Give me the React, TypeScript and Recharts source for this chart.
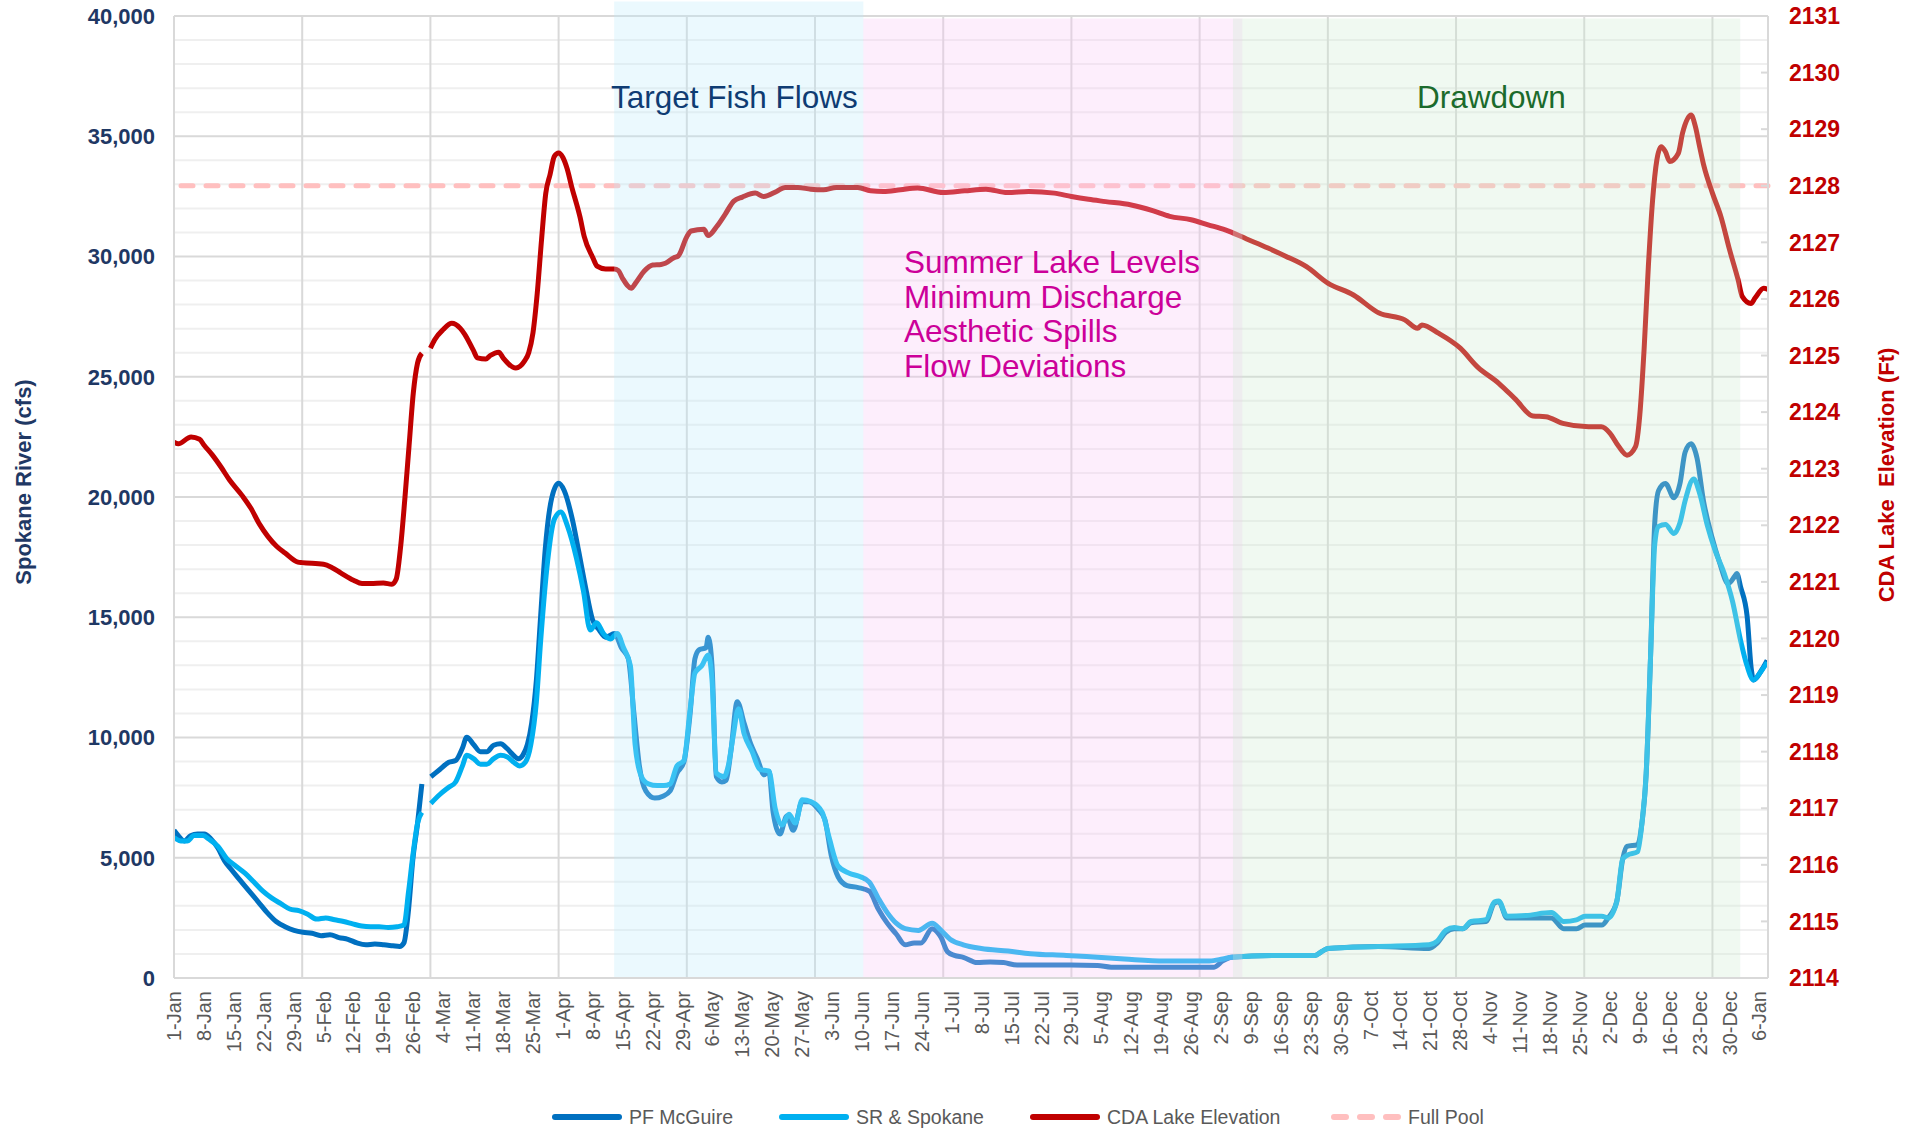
import React from "react"
import {
   LineChart,
   Line,
   XAxis,
   YAxis,
   CartesianGrid,
   ReferenceLine,
   ReferenceArea,
} from "recharts"

type Pt = [number, number | null]

// day 0 = 1-Jan, labels every 7 days
const xTickLabels = [
   "1-Jan", "8-Jan", "15-Jan", "22-Jan", "29-Jan",
   "5-Feb", "12-Feb", "19-Feb", "26-Feb",
   "4-Mar", "11-Mar", "18-Mar", "25-Mar",
   "1-Apr", "8-Apr", "15-Apr", "22-Apr", "29-Apr",
   "6-May", "13-May", "20-May", "27-May",
   "3-Jun", "10-Jun", "17-Jun", "24-Jun",
   "1-Jul", "8-Jul", "15-Jul", "22-Jul", "29-Jul",
   "5-Aug", "12-Aug", "19-Aug", "26-Aug",
   "2-Sep", "9-Sep", "16-Sep", "23-Sep", "30-Sep",
   "7-Oct", "14-Oct", "21-Oct", "28-Oct",
   "4-Nov", "11-Nov", "18-Nov", "25-Nov",
   "2-Dec", "9-Dec", "16-Dec", "23-Dec", "30-Dec",
   "6-Jan",
]
const xTickDays = xTickLabels.map((_, i) => i * 7)
const monthGridDays = [30, 60, 90, 120, 150, 180, 210, 240, 270, 300, 330, 360]

const flowTicks = [0, 5000, 10000, 15000, 20000, 25000, 30000, 35000, 40000]
const minorFlowLines = [
   1000, 2000, 3000, 4000, 6000, 7000, 8000, 9000, 11000, 12000, 13000, 14000,
   16000, 17000, 18000, 19000, 21000, 22000, 23000, 24000, 26000, 27000, 28000,
   29000, 31000, 32000, 33000, 34000, 36000, 37000, 38000, 39000,
]
const elevTicks = [
   2114, 2115, 2116, 2117, 2118, 2119, 2120, 2121, 2122, 2123, 2124, 2125, 2126,
   2127, 2128, 2129, 2130, 2131,
]
const FULL_POOL = 2128

const fishFlowDays = [103, 161.3]
const summerDays = [161.3, 250]
const drawdownDays = [247.8, 366.5]

const pfMcGuire: Pt[] = [
   [0, 6140], [1, 5920], [2.4, 5700], [3.9, 5920], [5.5, 5990], [7.1, 5990], [8.7, 5770],
   [10.3, 5400], [11.8, 4880], [13.4, 4510], [15.5, 4060], [17.6, 3610], [19.7, 3170],
   [21.8, 2720], [23.9, 2350], [26, 2130], [28.1, 1980], [30.2, 1900], [32.3, 1860],
   [34.4, 1760], [36.5, 1800], [38.6, 1680], [40.7, 1610], [42.8, 1460], [44.9, 1380],
   [47, 1410], [49.1, 1380], [51.2, 1340], [52.8, 1310], [53.8, 1460], [54.9, 2870],
   [55.9, 4950], [57, 6440], [58, 8070], [59, null], [60.1, 8370], [62.2, 8670],
   [64.3, 8970], [65.9, 9040], [67.5, 9560], [68.5, 10010], [70.1, 9710], [71.7, 9410],
   [73.2, 9410], [74.8, 9680], [76.4, 9740], [78, 9530], [79, 9340], [80.6, 9120],
   [81.6, 9260], [82.7, 9710], [83.7, 10600], [84.8, 12390], [85.8, 15060], [86.9, 17890],
   [88.4, 19970], [90, 20570], [91.3, 20270], [93.2, 19080], [94.7, 17740], [96.3, 16250],
   [97.9, 14920], [99.5, 14470], [101, 14170], [103.1, 14320], [104.7, 13730],
   [106.3, 13280], [107.6, 11050], [108.9, 8820], [110.4, 7780], [112.5, 7480],
   [114.4, 7560], [116.1, 7780], [117.7, 8520], [119.3, 8970], [120.8, 11050],
   [121.9, 13280], [122.9, 13650], [124.5, 13730], [125, 14170], [125.9, 12980],
   [126.9, 8370], [128.2, 8150], [129.2, 8220], [130.3, 9410], [131.8, 11490],
   [133.4, 10600], [135, 9710], [136.5, 9120], [138.1, 8450], [139.2, 8600], [140.2, 6890],
   [141.8, 5990], [143.4, 6740], [144.9, 6140], [147, 7330], [148.6, 7330], [150.7, 7030],
   [152.3, 6590], [153.8, 5100], [155.4, 4210], [157.5, 3840], [160.1, 3760], [162.7, 3610],
   [164.8, 2870], [166.9, 2280], [169, 1830], [171.1, 1380], [173.2, 1460], [174.8, 1460],
   [177.4, 2050], [179.5, 1680], [181, 1090], [182.6, 940], [184.7, 860], [187.9, 640],
   [191, 670], [194.1, 640], [197.3, 540], [209.8, 540], [216.1, 520], [219.3, 450],
   [243.4, 450], [245.4, 710], [247.5, 860], [258, 940], [267, 940], [268.5, 1090],
   [270, 1230], [281.8, 1310], [293.7, 1230], [295.6, 1450], [297.6, 1900], [299.6, 2050],
   [301.6, 2050], [303.5, 2300], [307, 2350], [309, 3120], [310, 3170], [311.9, 2500],
   [316.4, 2500], [322.3, 2500], [325.2, 2050], [328.2, 2050], [330.2, 2200], [334.1, 2200],
   [335.6, 2500], [337.6, 3170], [339, 4950], [340, 5470], [342.5, 5550], [343.5, 6440],
   [344.5, 8520], [345.5, 13280], [346.5, 18930], [347.4, 20270], [349, 20560],
   [351, 19970], [352.4, 20560], [353.6, 21860], [355, 22210], [356.4, 21610],
   [357.9, 19840], [359.9, 18320], [361.6, 17310], [363.7, 16400], [365.2, 16700],
   [365.7, 16820], [366.6, 16250], [368.1, 15060], [369.1, 12830], [369.6, 12390],
   [371.6, 12830], [372.8, 13210],
]

const srSpokane: Pt[] = [
   [0, 5840], [1.6, 5700], [3.1, 5700], [4.7, 5920], [6.8, 5920], [8.2, 5770], [10.3, 5470],
   [12.4, 4950], [14.5, 4650], [16.6, 4360], [18.7, 3990], [20.8, 3610], [22.9, 3320],
   [25, 3090], [27.1, 2870], [29.2, 2800], [31.3, 2650], [33.4, 2450], [35.5, 2500],
   [37.6, 2420], [39.7, 2350], [41.8, 2250], [43.9, 2160], [46, 2130], [48, 2130],
   [50.1, 2100], [52.2, 2130], [53.8, 2200], [54.9, 3610], [55.9, 5100], [57, 6440],
   [58, 6890], [59, null], [60.1, 7260], [62.2, 7630], [64.3, 7930], [65.9, 8150],
   [67.5, 8820], [68.5, 9260], [70.1, 9120], [71.7, 8890], [73.2, 8890], [74.8, 9120],
   [76.4, 9260], [78, 9190], [79.5, 8970], [80.9, 8820], [82.2, 8970], [83.5, 9710],
   [84.8, 11490], [85.8, 14020], [87.4, 17290], [89, 19080], [90.5, 19380], [92.1, 18780],
   [94.2, 17440], [95.8, 16100], [97.4, 14470], [98.9, 14770], [100.5, 14320],
   [102.1, 14100], [103.7, 14320], [105.2, 13730], [106.8, 12980], [107.9, 9710],
   [109.4, 8370], [111, 8070], [113.1, 8000], [114.6, 8000], [116.1, 8070], [117.7, 8820],
   [119.3, 9040], [120.8, 11200], [121.9, 12680], [123.5, 12980], [125, 13430],
   [125.9, 12390], [126.9, 8520], [128.7, 8370], [129.7, 8820], [130.8, 10010],
   [132.1, 11200], [133.4, 10160], [135.3, 9410], [137.1, 8670], [139.2, 8600],
   [140.7, 7030], [142.3, 6360], [143.9, 6810], [145.4, 6440], [147, 7410], [149.1, 7330],
   [151.7, 6890], [153.3, 5840], [155.4, 4650], [158, 4360], [160.6, 4210], [162.7, 3990],
   [164.8, 3320], [166.9, 2720], [169, 2280], [171.1, 2050], [174.2, 1980], [177.4, 2280],
   [179.5, 1980], [181.6, 1610], [184.7, 1380], [188.9, 1230], [195.2, 1120], [200.4, 1010],
   [208.8, 940], [216.1, 860], [222.4, 790], [231.8, 710], [242.3, 710], [245.4, 790],
   [247.5, 860], [258, 940], [267, 940], [268.5, 1090], [270, 1230], [281.8, 1310],
   [293.7, 1380], [295.6, 1530], [297.6, 1980], [299.6, 2100], [301.6, 2050], [303.5, 2350],
   [307, 2420], [309, 3170], [310, 3200], [311.9, 2570], [316.4, 2600], [322.3, 2720],
   [325.2, 2350], [328.2, 2420], [330.2, 2570], [334.1, 2570], [335.6, 2500], [337.6, 3170],
   [339, 4950], [340, 5100], [342.5, 5250], [343.5, 6440], [344.5, 8520], [345.5, 13280],
   [346.5, 18040], [347.4, 18780], [349, 18860], [351, 18480], [352.4, 18930],
   [353.6, 19840], [355.6, 20750], [357.1, 20090], [358.8, 18820], [360.7, 17740],
   [362.7, 16850], [364.7, 15660], [366.6, 14020], [368.1, 12980], [369.6, 12390],
   [371.1, 12680], [372.8, 13130],
]

const cdaElevation: Pt[] = [
   [0, 2123.47], [1, 2123.44], [4, 2123.56], [6, 2123.52], [7, 2123.42], [9, 2123.24],
   [11, 2123.03], [13, 2122.8], [16, 2122.52], [18, 2122.3], [20, 2122.02], [22, 2121.8],
   [24, 2121.63], [26, 2121.51], [29, 2121.35], [30, 2121.34], [35, 2121.31], [37, 2121.25],
   [39, 2121.16], [42, 2121.03], [44, 2120.97], [46, 2120.97], [49, 2120.98], [51, 2120.96],
   [52, 2121.05], [53, 2121.6], [54, 2122.45], [55, 2123.4], [56, 2124.34], [57, 2124.87],
   [58, 2125.04], [59, null], [60, 2125.13], [61, 2125.28], [63, 2125.46], [65, 2125.57],
   [67, 2125.48], [68, 2125.38], [70, 2125.1], [71, 2124.96], [73, 2124.94], [74, 2125.0],
   [76, 2125.06], [77, 2124.96], [80, 2124.78], [82, 2124.9], [83, 2125.05], [84, 2125.4],
   [85, 2126.1], [86, 2127.04], [87, 2127.87], [88, 2128.2], [89, 2128.52], [90, 2128.58],
   [91, 2128.5], [92, 2128.3], [93, 2128.0], [95, 2127.45], [96, 2127.1], [98, 2126.73],
   [99, 2126.58], [101, 2126.53], [103, 2126.53], [104, 2126.5], [105, 2126.36],
   [107, 2126.19], [108, 2126.28], [110, 2126.49], [112, 2126.6], [114, 2126.61],
   [115, 2126.63], [117, 2126.73], [118, 2126.76], [120, 2127.1], [121, 2127.2],
   [124, 2127.23], [125, 2127.12], [127, 2127.28], [129, 2127.5], [131, 2127.73],
   [133, 2127.8], [136, 2127.87], [138, 2127.81], [141, 2127.9], [143, 2127.97],
   [146, 2127.97], [149, 2127.94], [152, 2127.93], [155, 2127.97], [160, 2127.97],
   [163, 2127.91], [166, 2127.9], [170, 2127.93], [174, 2127.96], [180, 2127.88],
   [185, 2127.91], [190, 2127.94], [195, 2127.88], [200, 2127.9], [206, 2127.87],
   [210, 2127.81], [214, 2127.76], [218, 2127.72], [224, 2127.66], [229, 2127.56],
   [233, 2127.46], [238, 2127.4], [242, 2127.31], [246, 2127.22], [251, 2127.06],
   [256, 2126.9], [260, 2126.76], [265, 2126.57], [270, 2126.28], [276, 2126.07],
   [282, 2125.75], [288, 2125.63], [291, 2125.48], [292, 2125.54], [296, 2125.39],
   [301, 2125.13], [305, 2124.8], [310, 2124.51], [314, 2124.22], [318, 2123.93],
   [321, 2123.92], [325, 2123.8], [331, 2123.74], [334, 2123.74], [336, 2123.63],
   [338, 2123.4], [340, 2123.24], [342, 2123.39], [343, 2123.95], [344, 2125.1],
   [345, 2126.57], [346, 2127.75], [347, 2128.46], [348, 2128.69], [349, 2128.6],
   [350, 2128.43], [352, 2128.57], [353, 2128.93], [355, 2129.25], [356, 2129.05],
   [357, 2128.69], [358, 2128.35], [360, 2127.87], [362, 2127.45], [364, 2126.87],
   [366, 2126.34], [367, 2126.04], [369, 2125.92], [370, 2126.02], [372, 2126.19],
   [373, 2126.17],
]

const legendNames = ["PF McGuire", "SR & Spokane", "CDA Lake Elevation", "Full Pool"]
const summerNotes = ["Summer Lake Levels", "Minimum Discharge", "Aesthetic Spills", "Flow Deviations"]

const toRows = (pts: Pt[]) => pts.map(([d, v]) => ({ d, v }))

const FONT = "'Liberation Sans', Arial, sans-serif"
const NAVY = "#1F3864"
const DARKRED = "#C00000"
const PF_COLOR = "#0070C0"
const SR_COLOR = "#00B0F0"
const POOL_COLOR = "#FFBFBF"

const DateTick = (props: any) => {
   const { x, y, payload } = props
   const idx = xTickDays.indexOf(payload.value)
   return (
      <text
         transform={`translate(${x},${y}) rotate(-90)`}
         textAnchor="end"
         dy="0.35em"
         fill="#595959"
         fontSize={20}
         fontFamily={FONT}
      >
         {xTickLabels[idx]}
      </text>
   )
}

const legendLeft = [551, 778, 1029, 1330]
const legendColors = [PF_COLOR, SR_COLOR, DARKRED, POOL_COLOR]

const App = () => {
   return (
      <div
         style={{
            position: "absolute",
            left: 0,
            top: 0,
            width: 1911,
            height: 1132,
            background: "#fff",
            fontFamily: FONT,
         }}
      >
         <LineChart
            width={1911}
            height={1132}
            margin={{ top: 16, right: 63, bottom: 64, left: 74 }}
         >
            <CartesianGrid
               yAxisId="left"
               vertical={false}
               stroke="#D9D9D9"
               strokeWidth={2}
               zIndex={-100}
            />
            {minorFlowLines.map((v) => (
               <ReferenceLine
                  key={"m" + v}
                  yAxisId="left"
                  y={v}
                  stroke="#EFEFEF"
                  strokeWidth={2}
                  zIndex={-90}
               />
            ))}
            {monthGridDays.map((d) => (
               <ReferenceLine
                  key={"g" + d}
                  yAxisId="left"
                  x={d}
                  stroke="#D9D9D9"
                  strokeWidth={2}
                  zIndex={-80}
               />
            ))}
            <XAxis
               type="number"
               dataKey="d"
               domain={[0, 373]}
               ticks={xTickDays}
               interval={0}
               allowDataOverflow
               height={90}
               tick={<DateTick />}
               tickLine={false}
               tickSize={0}
               tickMargin={13}
               axisLine={{ stroke: "#D9D9D9", strokeWidth: 2 }}
            />
            <YAxis
               yAxisId="left"
               domain={[0, 40000]}
               ticks={flowTicks}
               width={100}
               tickLine={false}
               tickSize={0}
               tickMargin={19}
               axisLine={{ stroke: "#D9D9D9", strokeWidth: 2 }}
               tickFormatter={(v: number) => v.toLocaleString("en-US")}
               tick={{ fill: NAVY, fontSize: 22, fontWeight: 700, fontFamily: FONT }}
            />
            <YAxis
               yAxisId="right"
               orientation="right"
               domain={[2114, 2131]}
               ticks={elevTicks}
               width={80}
               tickSize={-7}
               tickMargin={28}
               tickLine={{ stroke: "#D9D9D9", strokeWidth: 2 }}
               axisLine={{ stroke: "#D9D9D9", strokeWidth: 2 }}
               tick={{ fill: DARKRED, fontSize: 23, fontWeight: 700, fontFamily: FONT }}
            />
            <ReferenceLine
               yAxisId="right"
               y={FULL_POOL}
               stroke={POOL_COLOR}
               strokeWidth={5}
               strokeDasharray="12 13"
               strokeLinecap="round"
               zIndex={-70}
            />
            <Line
               yAxisId="left"
               data={toRows(pfMcGuire)}
               dataKey="v"
               name="PF McGuire"
               type="monotone"
               stroke={PF_COLOR}
               strokeWidth={5}
               dot={false}
               activeDot={false}
               isAnimationActive={false}
            />
            <Line
               yAxisId="left"
               data={toRows(srSpokane)}
               dataKey="v"
               name="SR & Spokane"
               type="monotone"
               stroke={SR_COLOR}
               strokeWidth={5}
               dot={false}
               activeDot={false}
               isAnimationActive={false}
            />
            <Line
               yAxisId="right"
               data={toRows(cdaElevation)}
               dataKey="v"
               name="CDA Lake Elevation"
               type="monotone"
               stroke={DARKRED}
               strokeWidth={5}
               dot={false}
               activeDot={false}
               isAnimationActive={false}
            />
            <ReferenceArea
               yAxisId="left"
               x1={fishFlowDays[0]}
               x2={fishFlowDays[1]}
               y1={0}
               y2={40600}
               ifOverflow="visible"
               fill="#BCEBFC"
               fillOpacity={0.3}
               stroke="none"
               zIndex={450}
            />
            <ReferenceArea
               yAxisId="left"
               x1={summerDays[0]}
               x2={summerDays[1]}
               y1={0}
               y2={39900}
               fill="#F8C6F5"
               fillOpacity={0.3}
               stroke="none"
               zIndex={450}
            />
            <ReferenceArea
               yAxisId="left"
               x1={drawdownDays[0]}
               x2={drawdownDays[1]}
               y1={0}
               y2={39900}
               fill="#CDEBD0"
               fillOpacity={0.3}
               stroke="none"
               zIndex={450}
            />
         </LineChart>

         {/* axis titles */}
         <div
            style={{
               position: "absolute",
               left: 24,
               top: 482,
               transform: "translate(-50%, -50%) rotate(-90deg)",
               whiteSpace: "nowrap",
               fontSize: 22,
               fontWeight: 700,
               color: NAVY,
            }}
         >
            Spokane River (cfs)
         </div>
         <div
            style={{
               position: "absolute",
               left: 1887,
               top: 475,
               transform: "translate(-50%, -50%) rotate(-90deg)",
               whiteSpace: "pre",
               fontSize: 22,
               fontWeight: 700,
               color: DARKRED,
            }}
         >
            {"CDA Lake  Elevation (Ft)"}
         </div>

         {/* period notes */}
         <div
            style={{
               position: "absolute",
               left: 611,
               top: 81,
               fontSize: 31.5,
               lineHeight: "32px",
               color: "#0F3C73",
               whiteSpace: "nowrap",
            }}
         >
            Target Fish Flows
         </div>
         <div
            style={{
               position: "absolute",
               left: 1417,
               top: 81,
               fontSize: 31.5,
               lineHeight: "32px",
               color: "#1B6B2C",
               whiteSpace: "nowrap",
            }}
         >
            Drawdown
         </div>
         <div
            style={{
               position: "absolute",
               left: 904,
               top: 245,
               fontSize: 31.5,
               lineHeight: "34.5px",
               color: "#CC0099",
               whiteSpace: "nowrap",
            }}
         >
            {summerNotes.map((t) => (
               <div key={t}>{t}</div>
            ))}
         </div>

         {/* legend */}
         {legendNames.map((name, i) => (
            <div
               key={name}
               style={{
                  position: "absolute",
                  left: legendLeft[i],
                  top: 1105,
                  height: 24,
                  display: "flex",
                  alignItems: "center",
                  whiteSpace: "nowrap",
                  fontSize: 19.5,
                  color: "#595959",
               }}
            >
               <svg width={72} height={10} style={{ marginRight: 6 }}>
                  <line
                     x1={4}
                     y1={5}
                     x2={68}
                     y2={5}
                     stroke={legendColors[i]}
                     strokeWidth={6}
                     strokeLinecap="round"
                     strokeDasharray={i === 3 ? "12 14" : undefined}
                  />
               </svg>
               {name}
            </div>
         ))}
      </div>
   )
}

export default App
